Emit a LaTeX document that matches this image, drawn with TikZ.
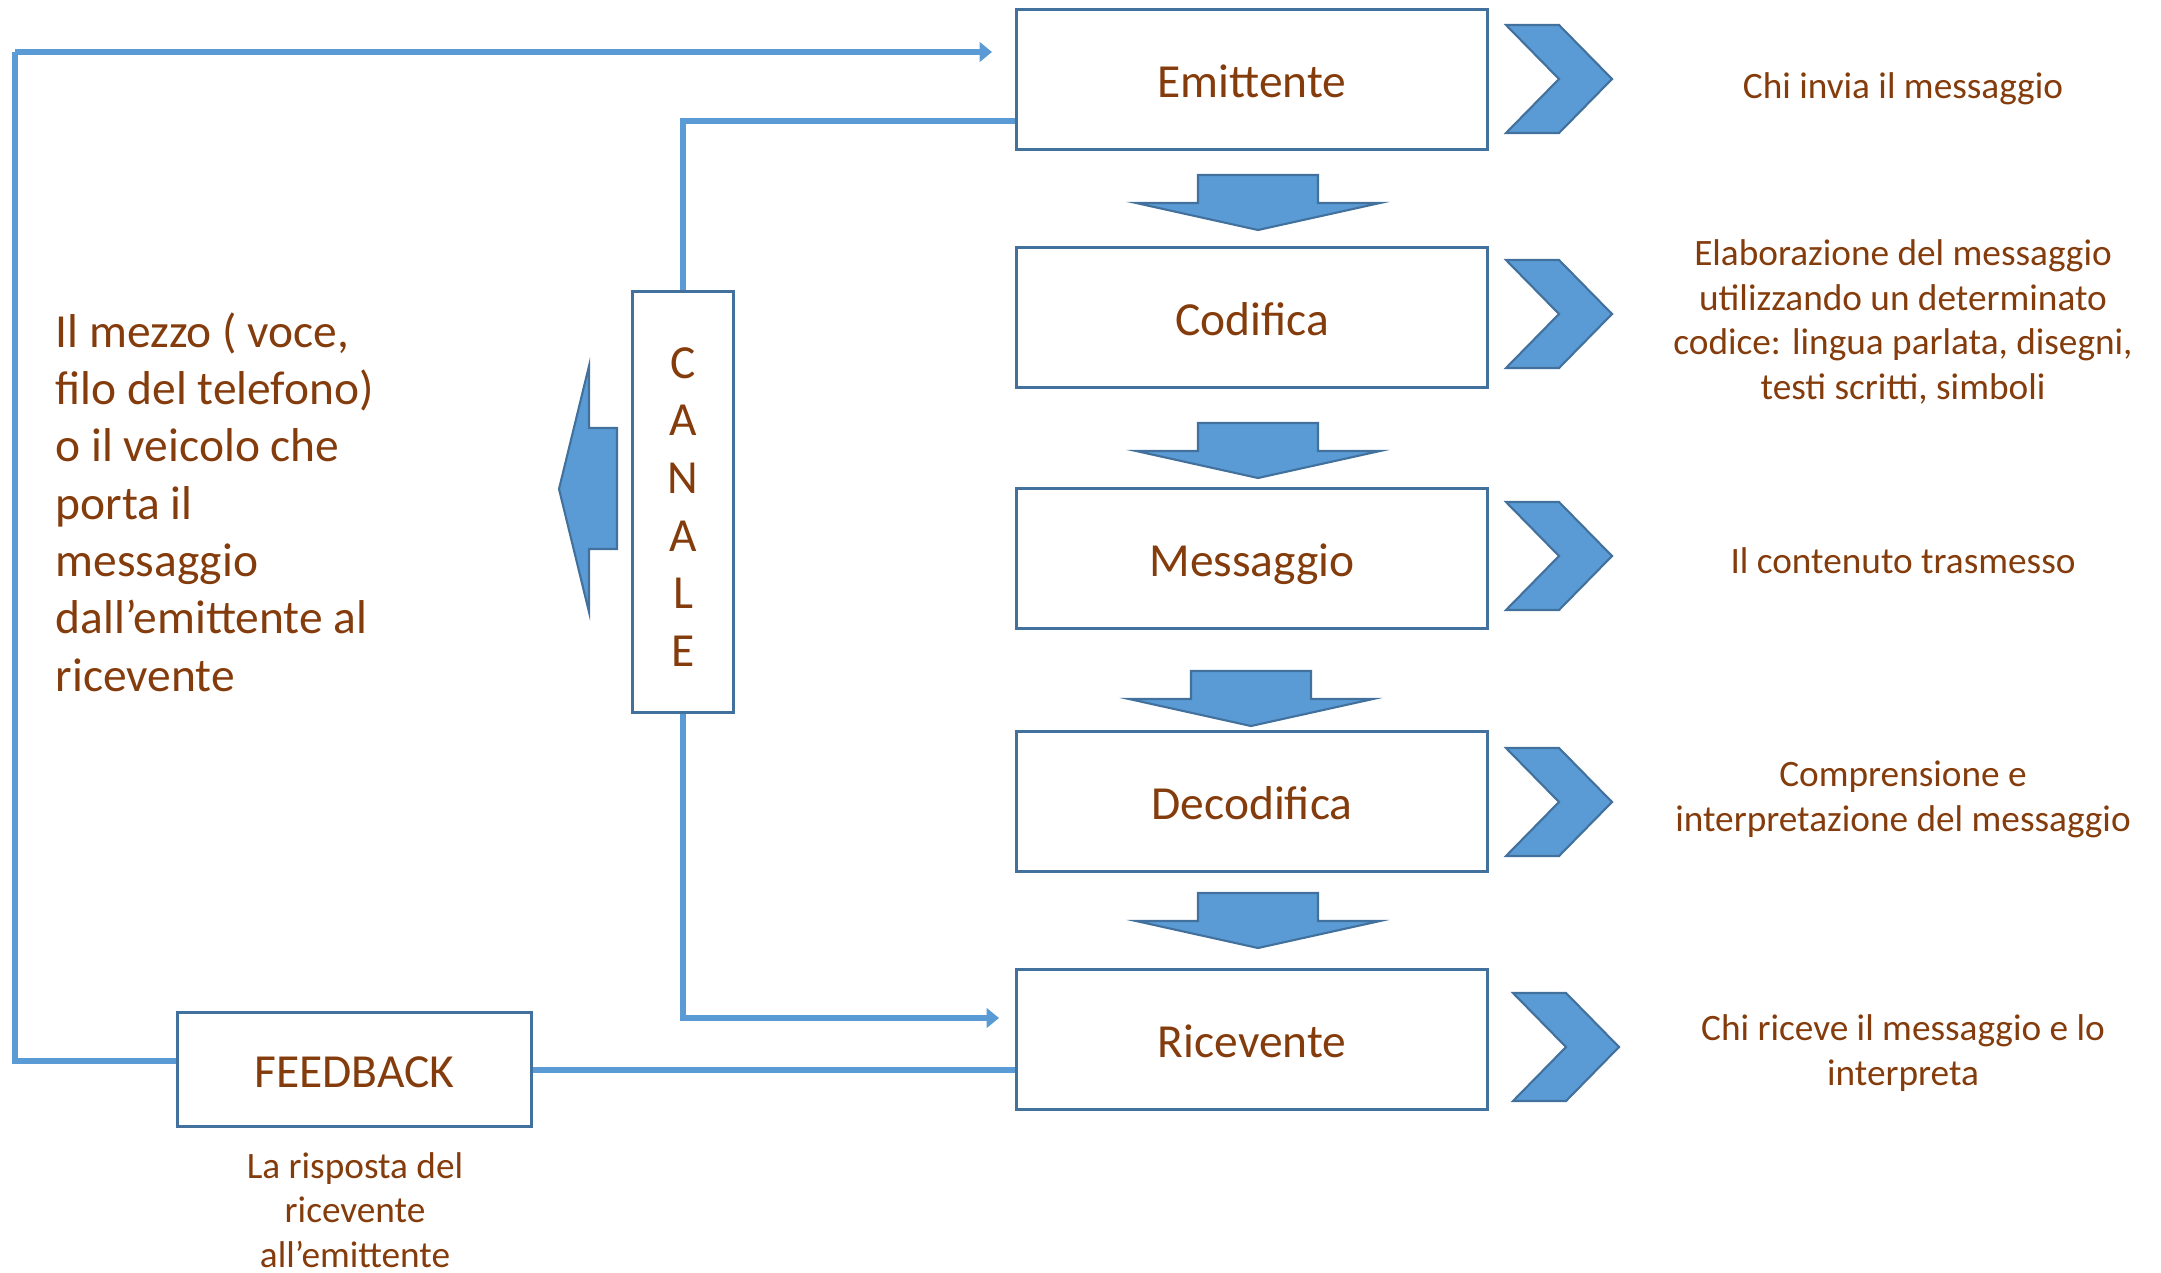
\documentclass[tikz,border=0pt]{standalone}
\usepackage{fontspec}
\setmainfont{Carlito}
\usetikzlibrary{arrows.meta}
\definecolor{lineblue}{HTML}{5B9BD5}
\definecolor{boxblue}{HTML}{41719C}
\definecolor{txtbrown}{HTML}{843C0C}
\tikzset{
 stepbox/.style={draw=boxblue, line width=0.85pt, fill=white, minimum width=4.70cm, minimum height=1.39cm, inner sep=0pt, font=\fontsize{13.5}{16.3}\selectfont, text=txtbrown, text height=11.5pt, text depth=1.35pt},
 conn/.style={draw=lineblue, line width=1.7pt},
 connarr/.style={conn, -{Triangle[length=3.5pt,width=5.5pt]}},
 desc/.style={align=center, font=\fontsize{10.6}{12.7}\selectfont, text=txtbrown, inner sep=0pt},
 shapefill/.style={fill=lineblue, draw=boxblue, line width=0.6pt, line join=miter},
}
\newcommand{\dnarrow}[2]{%
 \filldraw[shapefill] (#1-60,#2) -- (#1+60,#2) -- (#1+60,#2+28) -- (#1+122,#2+28) -- (#1,#2+55) -- (#1-122,#2+28) -- (#1-60,#2+28) -- cycle;}
\newcommand{\chevr}[2]{%
 \filldraw[shapefill] (#1,#2-54) -- (#1+53,#2-54) -- (#1+106,#2) -- (#1+53,#2+54) -- (#1,#2+54) -- (#1+53,#2) -- cycle;}
\begin{document}
\begin{tikzpicture}[x=0.01cm,y=-0.01cm]
\useasboundingbox (0,0) rectangle (2161,1273);

% main boxes
\node[stepbox] (emit) at (1252,79.5) {Emittente};
\node[stepbox] (cod) at (1252,317.5) {Codifica};
\node[stepbox] (mess) at (1252,558.5) {Messaggio};
\node[stepbox] (dec) at (1252,801.5) {Decodifica};
\node[stepbox] (ric) at (1252,1039.5) {Ricevente};

% canale
\node[draw=boxblue, line width=0.85pt, fill=white, minimum width=1.00cm, minimum height=4.20cm, inner sep=0pt] (can) at (683,502) {};
\node[align=center, font=\fontsize{13.5}{16.4}\selectfont, text=txtbrown, inner sep=0pt] (canletters) at (683,507) {C\\A\\N\\A\\L\\E};

% feedback
\node[stepbox, minimum width=3.53cm, minimum height=1.13cm] (fb) at (354.5,1069.5) {FEEDBACK};
\node[desc] (fbtxt) at (355,1210) {La risposta del\\ricevente\\all’emittente};

% down arrows
\dnarrow{1258}{175}
\dnarrow{1258}{423}
\dnarrow{1251}{671}
\dnarrow{1258}{893}

% chevrons
\chevr{1506}{79}
\chevr{1506}{314}
\chevr{1506}{556}
\chevr{1506}{802}
\chevr{1513}{1047}

% descriptions
\node[desc] (d1) at (1903,89) {Chi invia il messaggio};
\node[desc] (d2) at (1903,322) {Elaborazione del messaggio\\utilizzando un determinato\\codice: lingua parlata, disegni,\\testi scritti, simboli};
\node[desc] (d3) at (1903,561) {Il contenuto trasmesso};
\node[desc] (d4) at (1903,799.5) {Comprensione e\\interpretazione del messaggio};
\node[desc] (d5) at (1903,1053) {Chi riceve il messaggio e lo\\interpreta};

% left text
\node[anchor=west, align=left, font=\fontsize{13.5}{16.3}\selectfont, text=txtbrown, inner sep=0pt] (mezzo) at (55,502) {Il mezzo ( voce,\\filo del telefono)\\o il veicolo che\\porta il\\messaggio\\dall’emittente al\\ricevente};

% left arrow
\filldraw[shapefill] (559,489) -- (589,366) -- (589,428) -- (617,428) -- (617,549) -- (589,549) -- (589,612) -- cycle;

% connectors
\coordinate (lc) at (15,52);
\coordinate (topend) at (992,52);
\coordinate (recend) at (999,1018);
\draw[conn] ([yshift=0.085cm]fb.west) -| (lc);
\draw[connarr] (lc) -- (topend);
\draw[conn] ([yshift=-0.415cm]emit.west) -| (can.north);
\draw[connarr] (can.south) |- (recend);
\draw[conn] (fb.east) -- (fb.east -| ric.west);
\end{tikzpicture}
\end{document}
